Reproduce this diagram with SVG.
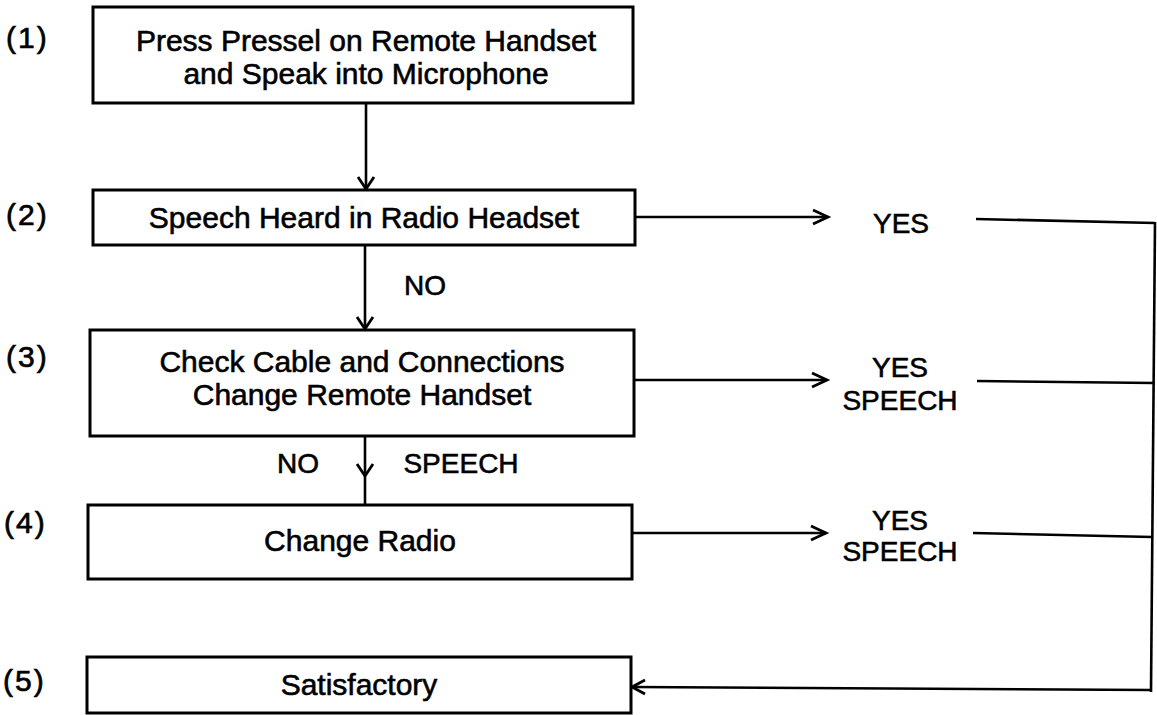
<svg xmlns="http://www.w3.org/2000/svg" width="1157" height="715" viewBox="0 0 1157 715">
<style>
.box{fill:#fff;stroke:#000;stroke-width:3}
.t{font-family:"Liberation Sans",Arial,sans-serif;font-size:30px;fill:#000;stroke:#000;stroke-width:0.6;text-anchor:middle}
.s{font-family:"Liberation Sans",Arial,sans-serif;font-size:28px;fill:#000;stroke:#000;stroke-width:0.6;text-anchor:middle}
.lbl{font-family:"Liberation Sans",Arial,sans-serif;font-size:30px;fill:#000;stroke:#000;stroke-width:0.7;letter-spacing:2px}
.ln{fill:none;stroke:#000;stroke-width:2.6}
.ah{fill:none;stroke:#000;stroke-width:2.8;stroke-linejoin:miter}
</style>
<rect width="1157" height="715" fill="#fff"/>
<g id="labels">
<text class="lbl" x="6" y="48">(1)</text>
<text class="lbl" x="6" y="225">(2)</text>
<text class="lbl" x="6" y="367">(3)</text>
<text class="lbl" x="4" y="533">(4)</text>
<text class="lbl" x="3" y="691">(5)</text>
</g>
<g id="connectors">
<line class="ln" x1="366" y1="103" x2="366" y2="189"/>
<polyline class="ah" points="358,177 366,189 374,177"/>
<line class="ln" x1="365" y1="245" x2="365" y2="329"/>
<polyline class="ah" points="357,317 365,329 373,317"/>
<line class="ln" x1="365" y1="436" x2="365" y2="505"/>
<polyline class="ah" points="357,464 365,476 373,464"/>
<line class="ln" x1="635" y1="217" x2="828" y2="217"/>
<polyline class="ah" points="813,210 828,217 813,224"/>
<line class="ln" x1="634" y1="380" x2="827" y2="380"/>
<polyline class="ah" points="812,373 827,380 812,387"/>
<line class="ln" x1="632" y1="533" x2="826" y2="533"/>
<polyline class="ah" points="811,526 826,533 811,540"/>
<line class="ln" x1="976" y1="219" x2="1155" y2="223"/>
<line class="ln" x1="977" y1="381" x2="1154" y2="383"/>
<line class="ln" x1="973" y1="533" x2="1152" y2="537"/>
<line class="ln" x1="1155" y1="222" x2="1151" y2="692"/>
<line class="ln" x1="1151" y1="690" x2="632" y2="687"/>
<polyline class="ah" points="645,680 632,687 645,694"/>
</g>
<g id="node1">
<rect class="box" x="93" y="7" width="540" height="96"/>
<text class="t" x="366" y="51">Press Pressel on Remote Handset</text>
<text class="t" x="366" y="84">and Speak into Microphone</text>
</g>
<g id="node2">
<rect class="box" x="93" y="190" width="542" height="55"/>
<text class="t" x="364" y="228">Speech Heard in Radio Headset</text>
</g>
<g id="node3">
<rect class="box" x="90" y="330" width="544" height="106"/>
<text class="t" x="362" y="372">Check Cable and Connections</text>
<text class="t" x="362" y="405">Change Remote Handset</text>
</g>
<g id="node4">
<rect class="box" x="88" y="505" width="544" height="74"/>
<text class="t" x="360" y="551">Change Radio</text>
</g>
<g id="node5">
<rect class="box" x="87" y="657" width="544" height="56"/>
<text class="t" x="359" y="695">Satisfactory</text>
</g>
<g id="edge-labels">
<text class="s" x="425" y="295">NO</text>
<text class="s" x="298" y="473">NO</text>
<text class="s" x="461" y="473">SPEECH</text>
<text class="s" x="901" y="233">YES</text>
<text class="s" x="900" y="377">YES</text>
<text class="s" x="900" y="410">SPEECH</text>
<text class="s" x="900" y="530">YES</text>
<text class="s" x="900" y="561">SPEECH</text>
</g>
</svg>
